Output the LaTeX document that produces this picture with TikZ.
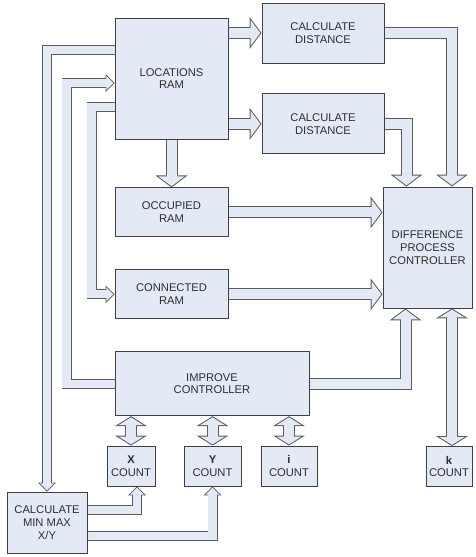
\documentclass[tikz,border=0pt]{standalone}
\usepackage{fontspec}
\setmainfont{Liberation Sans}
\usetikzlibrary{arrows.meta, positioning, backgrounds}
\definecolor{boxfill}{HTML}{E4EAF5}
\definecolor{boxline}{HTML}{404040}
\definecolor{arrowline}{HTML}{5C5C5C}
\definecolor{labelgrey}{HTML}{2E2E2E}
\tikzset{
  box/.style={rectangle, draw=boxline, line width=0.9pt, fill=boxfill, align=center,
    inner sep=1pt, text=labelgrey, font=\fontsize{11.2}{12.8}\selectfont},
  fat/.style={draw=arrowline, line width=12pt,
    -{Triangle[length=12pt, width=32pt, line width=0pt]},
    postaction={draw=boxfill, line width=10pt, shorten >=1.25pt,
      -{Triangle[length=9.75pt, width=26pt, line width=0pt]}},
    postaction={draw=boxfill, line width=10pt, shorten >=6pt, -}},
  fatboth/.style={draw=arrowline, line width=12pt,
    {Triangle[length=10pt, width=32pt, line width=0pt]}-{Triangle[length=10pt, width=32pt, line width=0pt]},
    postaction={draw=boxfill, line width=10pt, shorten >=1.2pt, shorten <=1.2pt,
      {Triangle[length=7.8pt, width=25pt, line width=0pt]}-{Triangle[length=7.8pt, width=25pt, line width=0pt]}},
    postaction={draw=boxfill, line width=10pt, shorten >=5pt, shorten <=5pt, -}},
  slim/.style={draw=arrowline, line width=10pt,
    -{Triangle[length=9pt, width=18pt, line width=0pt]},
    postaction={draw=boxfill, line width=8.2pt, shorten >=1.25pt,
      -{Triangle[length=6.85pt, width=13.7pt, line width=0pt]}},
    postaction={draw=boxfill, line width=8.2pt, shorten >=6pt, -}},
}
\begin{document}
\begin{tikzpicture}[x=1pt, y=-1pt]
\useasboundingbox (0,0) rectangle (476,557);
% memory blocks
\node[box, minimum width=113pt, minimum height=121pt] (loc) at (171.5,78.5) {LOCATIONS\\RAM};
\node[box, minimum width=113pt, minimum height=49pt, below=48pt of loc] (occ) {OCCUPIED\\RAM};
\node[box, minimum width=113pt, minimum height=49pt, below=32pt of occ] (con) {CONNECTED\\RAM};
\node[box, minimum width=194pt, minimum height=64pt, below=32pt of con.south west, anchor=north west] (imp) {IMPROVE\\CONTROLLER};
% distance units and controller
\node[box, minimum width=122pt, minimum height=60pt] (cd1) at (323,33) {CALCULATE\\DISTANCE};
\node[box, minimum width=122pt, minimum height=60pt, below=30pt of cd1] (cd2) {CALCULATE\\DISTANCE};
\node[box, minimum width=89pt, minimum height=121pt] (dpc) at (427.5,247.5) {DIFFERENCE\\PROCESS\\CONTROLLER};
% counters
\node[box, minimum width=48pt, minimum height=40pt] (xc) at (131,466) {\textbf{X}\\COUNT};
\node[box, minimum width=57pt, minimum height=40pt] (yc) at (212.5,466) {\textbf{Y}\\COUNT};
\node[box, minimum width=56pt, minimum height=40pt] (ic) at (289,466) {\textbf{i}\\COUNT};
\node[box, minimum width=46pt, minimum height=40pt] (kc) at (449,466.5) {\textbf{k}\\COUNT};
\node[box, minimum width=80pt, minimum height=61pt] (cmm) at (47,522.5) {CALCULATE\\MIN MAX\\X/Y};

\begin{scope}[on background layer]
\draw[fat] (loc.east |- cd1.west) -- (cd1.west);
\draw[fat] (loc.east |- cd2.west) -- (cd2.west);
\draw[fat] (cd1.east) -| ([xshift=24.5pt]dpc.north);
\draw[fat] (cd2.east) -| ([xshift=-21pt]dpc.north);
\draw[fat] (loc.south) -- (occ.north);
\draw[fat] (occ.east) -- (occ.east -| dpc.west);
\draw[fat] (con.east) -- (con.east -| dpc.west);
\draw[fat] (imp.east) -| ([xshift=-22pt]dpc.south);
\draw[fatboth] ([xshift=24.5pt]dpc.south) -- ([xshift=24.5pt]dpc.south |- kc.north);
\draw[fatboth] (imp.south -| xc.north) -- (xc.north);
\draw[fatboth] (imp.south -| yc.north) -- (yc.north);
\draw[fatboth] (imp.south -| ic.north) -- (ic.north);
% feedback buses on the left
\draw[slim] ([yshift=28.5pt]loc.west) -| (cmm.north);
\draw[slim] (imp.west) -- ++(-48pt,0) |- ([yshift=-4.5pt]loc.west);
\draw[slim] ([yshift=-28.5pt]loc.west) -- ++(-23pt,0) |- (con.west);
\draw[slim] ([yshift=12.5pt]cmm.east) -| ([xshift=6pt]xc.south);
\draw[slim] ([yshift=-13.5pt]cmm.east) -| (yc.south);
\end{scope}
\end{tikzpicture}
\end{document}
